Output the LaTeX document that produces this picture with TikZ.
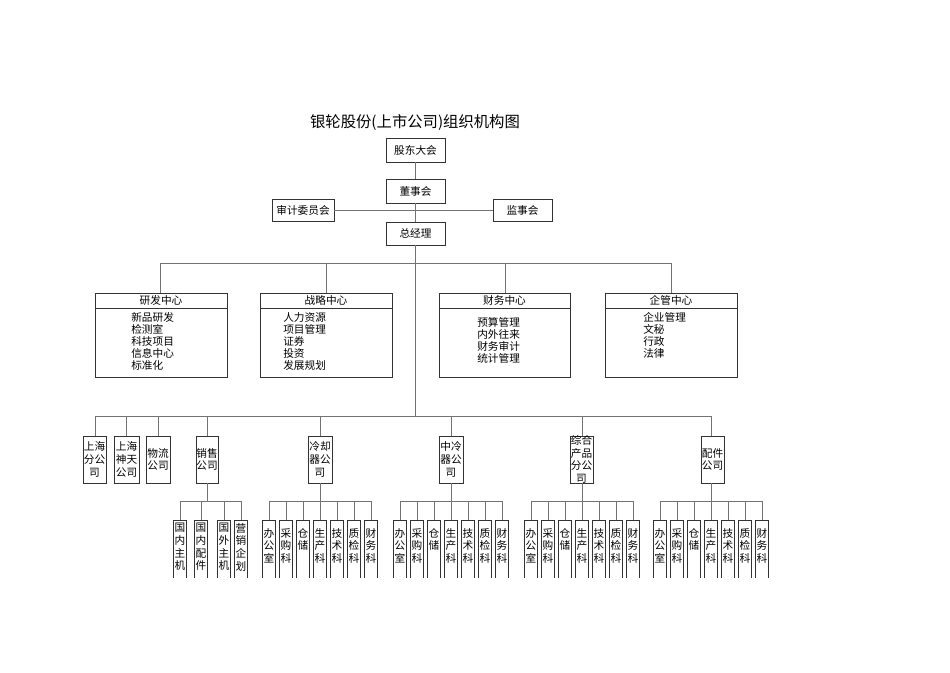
\documentclass[tikz,border=0pt]{standalone}
\usepackage{fontspec}
\setmainfont{Noto Sans CJK SC}
\begin{document}
\begin{tikzpicture}[x=0.75pt,y=-0.75pt,
  bx/.style={draw=black!80,line width=0.5pt,fill=white},
  ln/.style={draw=black!55,line width=0.6pt},
  lab/.style={font=\fontsize{8}{9.5}\selectfont,inner sep=0pt,align=center},
  lst/.style={font=\fontsize{8}{9}\selectfont,inner sep=0pt,anchor=north west,align=left}]
\useasboundingbox[fill=white] (0,0) rectangle (950,672);
\node[font=\fontsize{11.5}{13}\selectfont,inner sep=0pt] (title) at (415,122) {银轮股份(上市公司)组织机构图};
% top
\draw[bx] (386,138) rectangle (445,162); \node[lab] (gd) at (415.5,150) {股东大会};
\draw[bx] (386,179) rectangle (445,203); \node[lab] (dsh) at (415.5,191) {董事会};
\draw[bx] (272,199) rectangle (334,221); \node[lab] (sj) at (303,210) {审计委员会};
\draw[bx] (493,199) rectangle (552,221); \node[lab] (js) at (522.5,210) {监事会};
\draw[bx] (386,222) rectangle (445,245); \node[lab] (zjl) at (415.5,233.5) {总经理};
\draw[ln] (415,162)--(415,179) (334,210)--(493,210) (415,203)--(415,222);
\draw[ln] (415,245)--(415,416);
% centers
\draw[ln] (160,263)--(671,263);
\foreach \x in {160,326,505,671} \draw[ln] (\x,263)--(\x,293);
\foreach \a/\b/\t in {95/227/研发中心,260/392/战略中心,439/570/财务中心,605/737/企管中心}{
  \draw[bx] (\a,293) rectangle (\b,377); \draw[black!80,line width=0.5pt] (\a,308)--(\b,308);
  \node[lab] at ({(\a+\b)/2},300.5) {\t};}
\node[lst] (l1) at (131,312) {新品研发\\检测室\\科技项目\\信息中心\\标准化};
\node[lst] (l2) at (283,312) {人力资源\\项目管理\\证券\\投资\\发展规划};
\node[lst] (l3) at (477,317) {预算管理\\内外往来\\财务审计\\统计管理};
\node[lst] (l4) at (643,312) {企业管理\\文秘\\行政\\法律};
% companies
\draw[ln] (95,416)--(711,416);
\foreach \a/\b/\c/\t in {83/106/95/上海\\分公\\司,114/139/126/上海\\神天\\公司,146/170/158/物流\\公司,196/218/207/销售\\公司,308/332/320/冷却\\器公\\司,439/463/451/中冷\\器公\\司,570/593/582/综合\\产品\\分公\\司,701/724/711/配件\\公司}{
  \draw[ln] (\c,416)--(\c,436);
  \draw[bx] (\a,436) rectangle (\b,483);
  \node[lab,font=\fontsize{8}{9.5}\selectfont] at ({(\a+\b)/2},459.5) {\t};}
% sales subs
\draw[ln] (207,483)--(207,501) (180,501)--(241,501);
\foreach \c/\t in {180/国\\内\\主\\机,201/国\\内\\配\\件,224/国\\外\\主\\机,241/营\\销\\企\\划}{
  \draw[ln] (\c,501)--(\c,520);
  \draw[black!80,line width=0.5pt] (\c-6.5,578)--(\c-6.5,520)--(\c+6.5,520)--(\c+6.5,578);
  \node[lab,anchor=north] at (\c,523) {\t};}
% department subs
\foreach \m in {320,451,582,711}{
  \draw[ln] (\m,483)--(\m,501) (\m-51,501)--(\m+51,501);
  \foreach \k/\t in {0/办\\公\\室,1/采\\购\\科,2/仓\\储,3/生\\产\\科,4/技\\术\\科,5/质\\检\\科,6/财\\务\\科}{
    \pgfmathsetmacro\c{\m-51+17*\k}
    \draw[ln] (\c,501)--(\c,520);
    \draw[black!80,line width=0.5pt] (\c-6.5,578)--(\c-6.5,520)--(\c+6.5,520)--(\c+6.5,578);
    \node[lab,anchor=north] at (\c,528) {\t};}}
\end{tikzpicture}
\end{document}
